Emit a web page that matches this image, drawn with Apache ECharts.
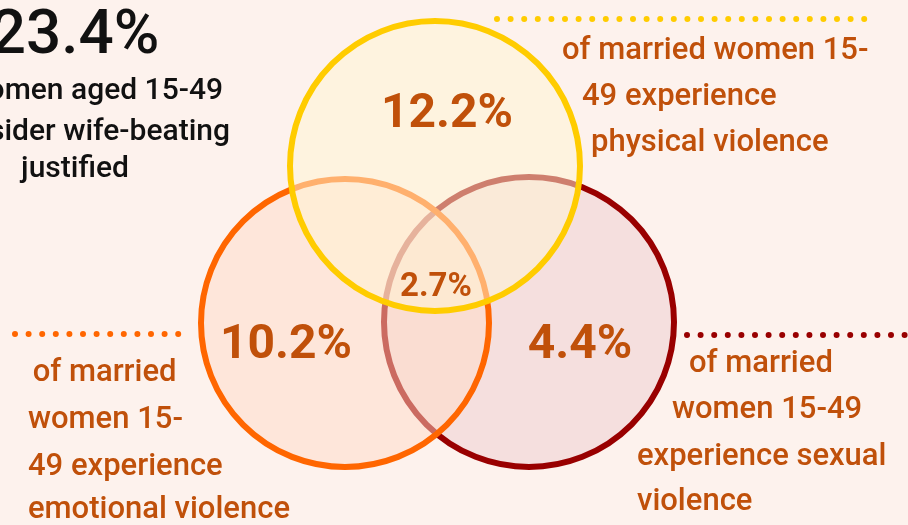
<!DOCTYPE html>
<html><head><meta charset="utf-8">
<script src="https://cdn.jsdelivr.net/npm/echarts/dist/echarts.min.js"></script>
<style>html,body{margin:0;padding:0;background:#fdf2ed;overflow:hidden}#chart{width:908px;height:525px}</style>
</head><body><div id="chart"></div>
<script>
// ---- data ----
const categories = ['physical violence', 'emotional violence', 'sexual violence'];
const values = [12.2, 10.2, 4.4];
const overlapValue = 2.7;
const headlineValue = 23.4;
const headlineLines = ['of women aged 15-49', 'consider wife-beating', 'justified'];
const physicalLines = ['of married women 15-', '49 experience', 'physical violence'];
const emotionalLines = [' of married', 'women 15-', '49 experience', 'emotional violence'];
const sexualLines = ['of married', 'women 15-49', 'experience sexual', 'violence'];
const categoryLines = [physicalLines, emotionalLines, sexualLines];

// ---- layout & style (pixel space of a 908x525 canvas, mapped through hidden axes) ----
const W = 908, H = 525;
const FONT = 'Roboto, "Noto Sans", sans-serif';
const TEXT = '#c0500a';
const layout = {
  circles: [
    { c: [435, 166], r: 145, fill: 'rgba(255,244,211,0.52)', stroke: '#ffcc00' },
    { c: [345, 323], r: 144, fill: 'rgba(255,218,197,0.49)', stroke: '#ff6600' },
    { c: [529, 322], r: 145, fill: 'rgba(237,204,208,0.5)', stroke: '#990000' }
  ],
  drawOrder: [2, 1, 0],
  valuePos: [[447, 115], [286, 346], [580, 346]],
  overlapPos: [436, 288],
  leaders: [
    { from: [497, 19], to: [870, 19], color: '#ffcc00' },
    { from: [15, 334], to: [183, 334], color: '#ff6600' },
    { from: [687, 335], to: [915, 335], color: '#990000' }
  ],
  labels: [
    { x: [562, 582, 591], y: [51, 97, 143] },
    { x: [25, 28, 28, 28], y: [373, 420, 467, 510] },
    { x: [689, 672, 637, 637], y: [364, 410, 457, 502] }
  ],
  headline: { x: 75, y: 37, lineX: [223, 230, 75], lineAlign: ['right', 'right', 'center'], lineY: [91, 132, 169] }
};

const chart = echarts.init(document.getElementById('chart'), null, { renderer: 'canvas' });
const pct = v => v.toFixed(1) + '%';

function txt(p, s, opt) {
  return {
    type: 'text', x: p[0], y: p[1], silent: true,
    style: Object.assign({ text: s, fill: TEXT, fontFamily: FONT, fontSize: 31, fontWeight: 500, align: 'left', verticalAlign: 'middle' }, opt)
  };
}

const option = {
  backgroundColor: '#fdf2ed',
  animation: false,
  grid: { left: 0, right: 0, top: 0, bottom: 0 },
  xAxis: { type: 'value', min: 0, max: W, show: false },
  yAxis: { type: 'value', min: 0, max: H, inverse: true, show: false },
  series: [
    { // circles
      type: 'custom', coordinateSystem: 'cartesian2d', silent: true, z: 1,
      data: layout.drawOrder.map(i => ({ name: categories[i], value: [i, values[i]] })),
      renderItem: function (params, api) {
        const i = api.value(0);
        const L = layout.circles[i];
        const c = api.coord(L.c);
        const r = Math.abs(api.size([L.r, L.r])[0]);
        return { type: 'circle', shape: { cx: c[0], cy: c[1], r: r }, style: { fill: L.fill, stroke: L.stroke, lineWidth: 6 } };
      }
    },
    { // dotted leaders
      type: 'custom', coordinateSystem: 'cartesian2d', silent: true, z: 2,
      data: categories.map((c, i) => ({ name: c, value: [i, values[i]] })),
      renderItem: function (params, api) {
        const L = layout.leaders[api.value(0)];
        const a = api.coord(L.from), b = api.coord(L.to);
        return { type: 'line', shape: { x1: a[0], y1: a[1], x2: b[0], y2: b[1] },
          style: { stroke: L.color, lineWidth: 6, lineCap: 'round', lineDash: [0, 13.6] } };
      }
    },
    { // values inside circles and category descriptions
      type: 'custom', coordinateSystem: 'cartesian2d', silent: true, z: 3,
      data: categories.map((c, i) => ({ name: c, value: [i, values[i]] })),
      renderItem: function (params, api) {
        const i = api.value(0);
        const children = [txt(api.coord(layout.valuePos[i]), pct(api.value(1)), { fontSize: 48, fontWeight: 'bold', align: 'center' })];
        const lab = layout.labels[i];
        categoryLines[i].forEach((s, k) => children.push(txt(api.coord([lab.x[k], lab.y[k]]), s, {})));
        return { type: 'group', children: children };
      }
    },
    { // central overlap + headline
      type: 'custom', coordinateSystem: 'cartesian2d', silent: true, z: 4,
      data: [{ name: 'overlap', value: [0, overlapValue] }, { name: 'headline', value: [1, headlineValue] }],
      renderItem: function (params, api) {
        if (api.value(0) === 0) {
          return txt(api.coord(layout.overlapPos), pct(api.value(1)), { fontSize: 33, fontWeight: 'bold', align: 'center' });
        }
        const h = layout.headline;
        const children = [txt(api.coord([h.x, h.y]), pct(api.value(1)), { fontSize: 62, fontWeight: 500, fill: '#111', align: 'center' })];
        headlineLines.forEach((s, k) => children.push(txt(api.coord([h.lineX[k], h.lineY[k]]), s, { fontSize: 30, fill: '#111', align: h.lineAlign[k] })));
        return { type: 'group', children: children };
      }
    }
  ]
};
chart.setOption(option);
</script></body></html>
